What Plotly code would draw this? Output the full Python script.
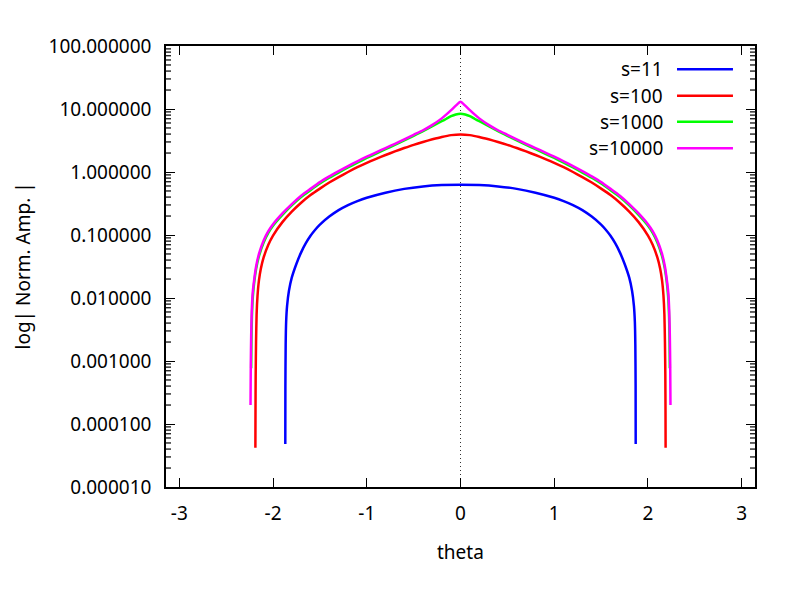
import math
import plotly.graph_objects as go

# theta / |normalised amplitude|, one pair of lists per curve
theta_s11 = [-1.869, -1.868, -1.865, -1.86, -1.85, -1.83, -1.8, -1.75, -1.7, -1.65, -1.6, -1.55,
             -1.5, -1.4, -1.3, -1.2, -1.1, -1.0, -0.8, -0.6, -0.4, -0.2, 0.0,
             0.2, 0.4, 0.6, 0.8, 1.0, 1.1, 1.2, 1.3, 1.4, 1.5, 1.55, 1.6, 1.65, 1.7, 1.75,
             1.8, 1.83, 1.85, 1.86, 1.865, 1.868, 1.869]
amp_s11 = [0.000048, 0.0004, 0.0018, 0.0042, 0.0075, 0.013, 0.021, 0.035, 0.053, 0.074, 0.097, 0.121,
           0.146, 0.196, 0.248, 0.298, 0.345, 0.39, 0.47, 0.54, 0.59, 0.62, 0.63,
           0.62, 0.59, 0.54, 0.47, 0.39, 0.345, 0.298, 0.248, 0.196, 0.146, 0.121, 0.097, 0.074, 0.053, 0.035,
           0.021, 0.013, 0.0075, 0.0042, 0.0018, 0.0004, 0.000048]

theta_s100 = [-2.188, -2.187, -2.185, -2.181, -2.175, -2.165, -2.15, -2.13, -2.1, -2.05, -2.0, -1.9,
              -1.8, -1.7, -1.6, -1.5, -1.4, -1.3, -1.2, -1.1, -1.0, -0.9, -0.8, -0.7, -0.6, -0.5,
              -0.4, -0.3, -0.2, -0.1, 0.0,
              0.1, 0.2, 0.3, 0.4, 0.5, 0.6, 0.7, 0.8, 0.9, 1.0, 1.1, 1.2, 1.3, 1.4, 1.5, 1.6, 1.7,
              1.8, 1.9, 2.0, 2.05, 2.1, 2.13, 2.15, 2.165, 2.175, 2.181, 2.185, 2.187, 2.188]
amp_s100 = [0.000042, 0.00015, 0.0006, 0.002, 0.0055, 0.011, 0.019, 0.029, 0.044, 0.07, 0.098, 0.16,
            0.235, 0.325, 0.43, 0.545, 0.68, 0.83, 1.0, 1.19, 1.4, 1.62, 1.86, 2.12, 2.4, 2.7,
            3.0, 3.3, 3.6, 3.85, 3.95,
            3.85, 3.6, 3.3, 3.0, 2.7, 2.4, 2.12, 1.86, 1.62, 1.4, 1.19, 1.0, 0.83, 0.68, 0.545, 0.43, 0.325,
            0.235, 0.16, 0.098, 0.07, 0.044, 0.029, 0.019, 0.011, 0.0055, 0.002, 0.0006, 0.00015, 0.000042]

theta_s1000 = [-2.233, -2.23, -2.225, -2.215, -2.2, -2.18, -2.15, -2.1, -2.05, -2.0, -1.9, -1.8,
               -1.7, -1.6, -1.5, -1.4, -1.3, -1.2, -1.1, -1.0, -0.9, -0.8, -0.7, -0.6, -0.5, -0.4,
               -0.3, -0.2, -0.15, -0.1, -0.05, 0.0,
               0.05, 0.1, 0.15, 0.2, 0.3, 0.4, 0.5, 0.6, 0.7, 0.8, 0.9, 1.0, 1.1, 1.2, 1.3, 1.4, 1.5,
               1.6, 1.7, 1.8, 1.9, 2.0, 2.05, 2.1, 2.15, 2.18, 2.2, 2.215, 2.225, 2.23, 2.233]
amp_s1000 = [0.00077, 0.002, 0.005, 0.0105, 0.018, 0.029, 0.046, 0.076, 0.108, 0.14, 0.208, 0.295,
             0.4, 0.515, 0.655, 0.81, 0.98, 1.18, 1.41, 1.67, 1.96, 2.3, 2.69, 3.17, 3.75, 4.45,
             5.35, 6.4, 7.0, 7.7, 8.2, 8.4,
             8.2, 7.7, 7.0, 6.4, 5.35, 4.45, 3.75, 3.17, 2.69, 2.3, 1.96, 1.67, 1.41, 1.18, 0.98, 0.81, 0.655,
             0.515, 0.4, 0.295, 0.208, 0.14, 0.108, 0.076, 0.046, 0.029, 0.018, 0.0105, 0.005, 0.002, 0.00077]

theta_s10000 = [-2.24, -2.237, -2.233, -2.227, -2.217, -2.2, -2.18, -2.15, -2.1, -2.05, -2.0, -1.9,
                -1.8, -1.7, -1.6, -1.5, -1.4, -1.3, -1.2, -1.1, -1.0, -0.9, -0.8, -0.7, -0.6, -0.5,
                -0.4, -0.3, -0.2, -0.15, -0.1, -0.05, 0.0,
                0.05, 0.1, 0.15, 0.2, 0.3, 0.4, 0.5, 0.6, 0.7, 0.8, 0.9, 1.0, 1.1, 1.2, 1.3, 1.4, 1.5,
                1.6, 1.7, 1.8, 1.9, 2.0, 2.05, 2.1, 2.15, 2.18, 2.2, 2.217, 2.227, 2.233, 2.237, 2.24]
amp_s10000 = [0.0002, 0.0009, 0.0025, 0.006, 0.012, 0.02, 0.032, 0.05, 0.082, 0.115, 0.148, 0.22,
              0.31, 0.42, 0.54, 0.69, 0.85, 1.03, 1.24, 1.48, 1.75, 2.05, 2.4, 2.8, 3.3, 3.9,
              4.6, 5.6, 7.1, 8.2, 9.6, 11.3, 13.0,
              11.3, 9.6, 8.2, 7.1, 5.6, 4.6, 3.9, 3.3, 2.8, 2.4, 2.05, 1.75, 1.48, 1.24, 1.03, 0.85, 0.69,
              0.54, 0.42, 0.31, 0.22, 0.148, 0.115, 0.082, 0.05, 0.032, 0.02, 0.012, 0.006, 0.0025, 0.0009, 0.0002]

series_names = ["s=11", "s=100", "s=1000", "s=10000"]
series_colors = ["#0000ff", "#ff0000", "#00ff00", "#ff00ff"]
x_ticks = [-3, -2, -1, 0, 1, 2, 3]
x_labels = ["-3", "-2", "-1", "0", "1", "2", "3"]
y_ticks = [1e-5, 1e-4, 1e-3, 1e-2, 1e-1, 1, 10, 100]
y_minor = [m * d for d in y_ticks[:-1] for m in range(2, 10)]

FONT = "Noto Sans"
FS = 19
Y_LOG_RANGE = [-5, 2]
PLOT_W = 789 - 158 - 42

fig = go.Figure()
for name, color, th, amp in zip(series_names, series_colors,
                                [theta_s11, theta_s100, theta_s1000, theta_s10000],
                                [amp_s11, amp_s100, amp_s1000, amp_s10000]):
    fig.add_trace(go.Scatter(x=th, y=amp, mode="lines", name=name, showlegend=False,
                             line=dict(color=color, width=2.5, shape="spline", smoothing=0.6)))

# dotted zero line
fig.add_shape(type="line", xref="x", yref="paper", x0=0, x1=0, y0=0, y1=1,
              line=dict(color="#333333", width=1, dash="1px,3px"), layer="below")

# minor log ticks on left and right border, 5 px long
tick_frac = 5 / PLOT_W
for v in y_minor:
    yp = (math.log10(v) - Y_LOG_RANGE[0]) / (Y_LOG_RANGE[1] - Y_LOG_RANGE[0])
    for x0, x1 in [(0, tick_frac), (1 - tick_frac, 1)]:
        fig.add_shape(type="line", xref="paper", yref="paper", x0=x0, x1=x1, y0=yp, y1=yp,
                      line=dict(color="black", width=1.2), layer="above")

# gnuplot-style key: text right aligned, sample line on the right
key_y = [0.9472, 0.8873, 0.8283, 0.768]
for name, color, ky in zip(series_names, series_colors, key_y):
    fig.add_annotation(xref="paper", yref="paper", x=0.847, y=ky, text=name, showarrow=False,
                       xanchor="right", yanchor="middle", font=dict(family=FONT, size=FS, color="black"))
    fig.add_shape(type="line", xref="paper", yref="paper", x0=0.8676, x1=0.9626, y0=ky, y1=ky,
                  line=dict(color=color, width=2.5))

# axis titles
fig.add_annotation(xref="paper", yref="paper", x=0.5, y=0, yshift=-65, text="theta", showarrow=False,
                   xanchor="center", yanchor="middle", font=dict(family=FONT, size=FS, color="black"))
fig.add_annotation(xref="paper", yref="paper", x=0, y=0.5, xshift=-144, text="log| Norm. Amp. |",
                   textangle=-90, showarrow=False, xanchor="center", yanchor="middle",
                   font=dict(family=FONT, size=FS, color="black"))

fig.update_xaxes(range=[-3.1416, 3.1416], tickvals=x_ticks, ticktext=x_labels, ticks="inside", ticklen=9,
                 tickwidth=1, tickcolor="black", showline=True, linecolor="black", linewidth=1.5,
                 mirror="allticks", showgrid=False, zeroline=False,
                 tickfont=dict(family=FONT, size=FS, color="black"), ticklabelstandoff=8)
fig.update_yaxes(type="log", range=Y_LOG_RANGE, tickvals=y_ticks, tickformat=".6f", ticks="inside",
                 ticklen=9, tickwidth=1.2, tickcolor="black", showline=True, linecolor="black",
                 linewidth=1.5, mirror="allticks", showgrid=False, zeroline=False,
                 tickfont=dict(family=FONT, size=FS, color="black"), ticklabelstandoff=9)

fig.update_layout(width=789, height=591, plot_bgcolor="white", paper_bgcolor="white",
                  margin=dict(l=158, r=42, t=38, b=112), showlegend=False,
                  font=dict(family=FONT, size=FS, color="black"))

fig.write_html("out.html")
